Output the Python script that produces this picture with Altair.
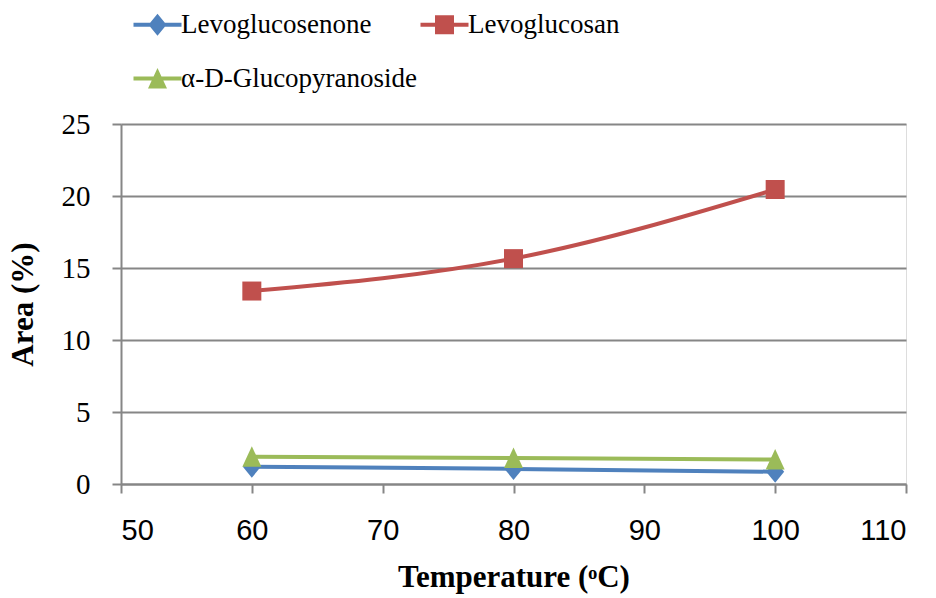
import altair as alt
import pandas as pd

# Reaction temperature (°C) and product peak areas (%)
temperatures = [60, 80, 100]
series_names = ["Levoglucosenone", "Levoglucosan", "α-D-Glucopyranoside"]
levoglucosenone = [1.2, 1.05, 0.85]
levoglucosan = [13.4, 15.65, 20.45]
glucopyranoside = [1.9, 1.8, 1.7]

series_colors = ["#4F81BD", "#C0504D", "#9BBB59"]

# Marker outlines (unit space, scaled by the symbol size)
marker_paths = [
    "M0,-1.1L0.9,0L0,1.1L-0.9,0Z",
    "M-0.95,-0.95H0.95V0.95H-0.95Z",
    "M0,-1.05L0.95,1.0H-0.95Z",
]
# Legend keys: a short line segment with the marker on top of it
segment = "M-2.4,-0.2H2.4V0.2H-2.4Z "
legend_paths = [segment + p for p in marker_paths]

rows = []
for order, (name, values) in enumerate(
    zip(series_names, [levoglucosenone, levoglucosan, glucopyranoside])
):
    for t, v in zip(temperatures, values):
        rows.append({"series": name, "order": order, "temperature": t, "area": v})
df = pd.DataFrame(rows)

x_enc = alt.X(
    "temperature:Q",
    title="Temperature (ᵒC)",
    scale=alt.Scale(domain=[50, 110], nice=False, zero=False),
    axis=alt.Axis(
        values=[50, 60, 70, 80, 90, 100, 110],
        grid=False,
        labelFont="Liberation Sans",
        labelFontSize=29,
        labelColor="#000000",
        labelPadding=23,
        domainColor="#868686",
        domainWidth=2,
        tickColor="#868686",
        tickWidth=2,
        tickSize=9,
        titleFont="Liberation Serif",
        titleFontWeight="bold",
        titleFontSize=31,
        titleColor="#000000",
        titlePadding=17,
    ),
)
y_enc = alt.Y(
    "area:Q",
    title="Area (%)",
    scale=alt.Scale(domain=[0, 25], nice=False),
    axis=alt.Axis(
        values=[0, 5, 10, 15, 20, 25],
        grid=True,
        gridColor="#868686",
        gridWidth=2,
        labelFont="Liberation Serif",
        labelFontSize=29,
        labelColor="#000000",
        labelPadding=22,
        domainColor="#868686",
        domainWidth=2,
        tickColor="#868686",
        tickWidth=2,
        tickSize=9,
        titleFont="Liberation Serif",
        titleFontWeight="bold",
        titleFontSize=31,
        titleColor="#000000",
        titlePadding=22,
    ),
)

color_scale = alt.Scale(domain=series_names, range=series_colors)

base = alt.Chart(df)

lines = base.mark_line(strokeWidth=4, interpolate="monotone").encode(
    x=x_enc,
    y=y_enc,
    color=alt.Color("series:N", scale=color_scale, legend=None),
    detail="series:N",
    order="temperature:Q",
)

points = base.mark_point(filled=True, size=400, opacity=1, strokeWidth=0).encode(
    x="temperature:Q",
    y="area:Q",
    color=alt.Color("series:N", scale=color_scale, legend=None),
    shape=alt.Shape(
        "series:N",
        scale=alt.Scale(domain=series_names, range=marker_paths),
        legend=None,
    ),
)


def key_legend():
    return alt.Legend(
        title=None,
        orient="none",
        direction="horizontal",
        legendX=23,
        legendY=-113,
        columns=2,
        columnPadding=2,
        rowPadding=26,
        symbolSize=400,
        symbolStrokeWidth=0,
        labelFont="Liberation Serif",
        labelFontSize=27,
        labelColor="#000000",
        labelOffset=10,
        labelLimit=0,
        padding=0,
    )


legend_layer = (
    base.transform_filter("false")
    .mark_point(filled=True, size=400, opacity=1, strokeWidth=0)
    .encode(
        x="temperature:Q",
        y="area:Q",
        color=alt.Color("series:N", scale=color_scale, legend=key_legend()),
        shape=alt.Shape(
            "series:N",
            scale=alt.Scale(domain=series_names, range=legend_paths),
            legend=key_legend(),
        ),
    )
)

chart = (
    alt.layer(lines, points, legend_layer)
    .resolve_scale(color="independent", shape="independent")
    .properties(
        width=785,
        height=360,
        autosize=alt.AutoSizeParams(type="none"),
        padding={"left": 121, "top": 124, "right": 30, "bottom": 114},
    )
    .configure_view(stroke=None)
    .configure(background="#ffffff")
)

chart.save("out.html", embed_options={"renderer": "svg", "actions": False})
